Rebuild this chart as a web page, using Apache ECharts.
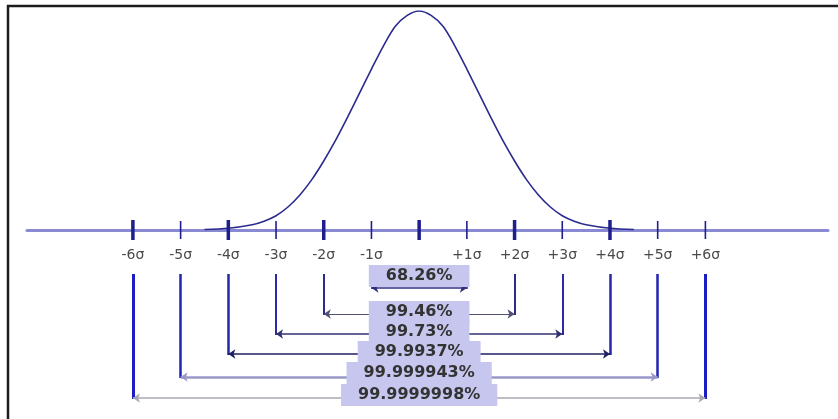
<!DOCTYPE html>
<html>
<head>
<meta charset="utf-8">
<script src="https://cdn.jsdelivr.net/npm/echarts@6/dist/echarts.min.js"></script>
<style>
  html, body { margin: 0; padding: 0; background: #fff; }
  #main { width: 838px; height: 419px; }
</style>
</head>
<body>
<div id="main"></div>
<script>
// sigma positions on the axis and their labels
var sigmaLevels = [-6, -5, -4, -3, -2, -1, 0, 1, 2, 3, 4, 5, 6];
var tickLabels = ['-6σ', '-5σ', '-4σ', '-3σ', '-2σ', '-1σ', '', '+1σ', '+2σ', '+3σ', '+4σ', '+5σ', '+6σ'];

// bell curve, height in % of the peak
var curveX = [-4.5, -4, -3.5, -3.25, -3, -2.75, -2.5, -2.25, -2, -1.75, -1.5, -1.25, -1, -0.75, -0.5, -0.25, 0,
              0.25, 0.5, 0.75, 1, 1.25, 1.5, 1.75, 2, 2.25, 2.5, 2.75, 3, 3.25, 3.5, 4, 4.5];
var curveY = [0.2, 0.8, 2.4, 4, 6.5, 10.5, 16, 23, 31.5, 41, 51.5, 62.5, 73.5, 84, 93, 98, 100,
              98, 93, 84, 73.5, 62.5, 51.5, 41, 31.5, 23, 16, 10.5, 6.5, 4, 2.4, 0.8, 0.2];

// +/- k sigma ranges and the share they cover
var rangeK = [1, 2, 3, 4, 5, 6];
var rangeLabels = ['68.26%', '99.46%', '99.73%', '99.9937%', '99.999943%', '99.9999998%'];

// layout (pixels below the axis) and styles
var tickBold = [1, 0, 1, 0, 1, 0, 1, 0, 1, 0, 1, 0, 0];
var rowLinePx = [58, 84, 104, 124, 147, 168];
var rowBoxPx = [46, 82, 102, 122, 143, 165];
var rowColor = ['#303080', '#505070', '#303070', '#202060', '#9898c8', '#a8a8b0'];
var rowWidth = [1.5, 1.2, 1.5, 1.5, 2.5, 1.5];
var vertColor = ['#2a2aa0', '#2a2a90', '#2a2aa8', '#2626a8', '#2323b4', '#1c1cc4'];
var vertWidth = [1.5, 2, 2, 2.5, 2.5, 3];

var PX = 219 / 100;   // pixels per y unit
function below(px) { return -px / PX; }

var chart = echarts.init(document.getElementById('main'));

var vertData = [];
var horizData = [];
var labelData = [];
rangeK.forEach(function (k, i) {
    var top = below(44), bot = below(rowLinePx[i] + 1);
    var ls = { color: vertColor[i], width: vertWidth[i], opacity: 1 };
    vertData.push({ coords: [[-k, top], [-k, bot]], lineStyle: ls });
    vertData.push({ coords: [[k, top], [k, bot]], lineStyle: ls });
    horizData.push({
        coords: [[-k, below(rowLinePx[i])], [k, below(rowLinePx[i])]],
        lineStyle: { color: rowColor[i], width: rowWidth[i], opacity: 1 }
    });
    labelData.push([0, below(rowBoxPx[i])]);
});

var option = {
    animation: false,
    grid: { left: 27, right: 10, top: 11, bottom: 0 },
    xAxis: {
        type: 'value', min: -8.22, max: 8.57,
        axisLine: { show: true, onZero: true, lineStyle: { color: '#8a8ad2', width: 3 } },
        axisTick: { show: false }, axisLabel: { show: false }, splitLine: { show: false }
    },
    yAxis: {
        type: 'value', min: -86.3, max: 100, show: false,
        splitLine: { show: false }
    },
    graphic: [{
        type: 'polyline',
        shape: { points: [[8, 419], [8, 6], [838, 6]] },
        style: { stroke: '#1c1c1c', lineWidth: 2.5, fill: null }
    }],
    series: [
        {
            type: 'line',
            data: curveX.map(function (x, i) { return [x, curveY[i]]; }),
            smooth: 0.3,
            showSymbol: false,
            silent: true,
            lineStyle: { color: '#2b2b8f', width: 1.6 },
            z: 3
        },
        {
            type: 'scatter',
            silent: true,
            data: sigmaLevels.map(function (s) { return [s, 0]; }),
            symbol: 'rect',
            symbolSize: function (v, p) {
                return tickBold[p.dataIndex] ? [3.5, 20] : [1.6, 18];
            },
            itemStyle: { color: '#1e1e8c', opacity: 1 },
            label: {
                show: true,
                position: 'inside',
                offset: [0, 25],
                formatter: function (p) { return tickLabels[p.dataIndex]; },
                color: '#4a4a4a',
                fontSize: 14,
                fontFamily: 'DejaVu Sans'
            },
            z: 4
        },
        {
            type: 'lines',
            coordinateSystem: 'cartesian2d',
            silent: true,
            symbol: 'none',
            data: vertData,
            z: 2
        },
        {
            type: 'lines',
            coordinateSystem: 'cartesian2d',
            silent: true,
            symbol: ['arrow', 'arrow'],
            symbolSize: 7,
            data: horizData,
            z: 2
        },
        {
            type: 'scatter',
            silent: true,
            data: labelData,
            symbolSize: 0,
            itemStyle: { opacity: 1 },
            label: {
                show: true,
                position: 'inside',
                formatter: function (p) { return rangeLabels[p.dataIndex]; },
                backgroundColor: '#c6c6ee',
                padding: [3, 17],
                color: '#333',
                fontSize: 16,
                fontWeight: 'bold',
                fontFamily: 'DejaVu Sans'
            },
            z: 5
        }
    ]
};
chart.setOption(option);
</script>
</body>
</html>
